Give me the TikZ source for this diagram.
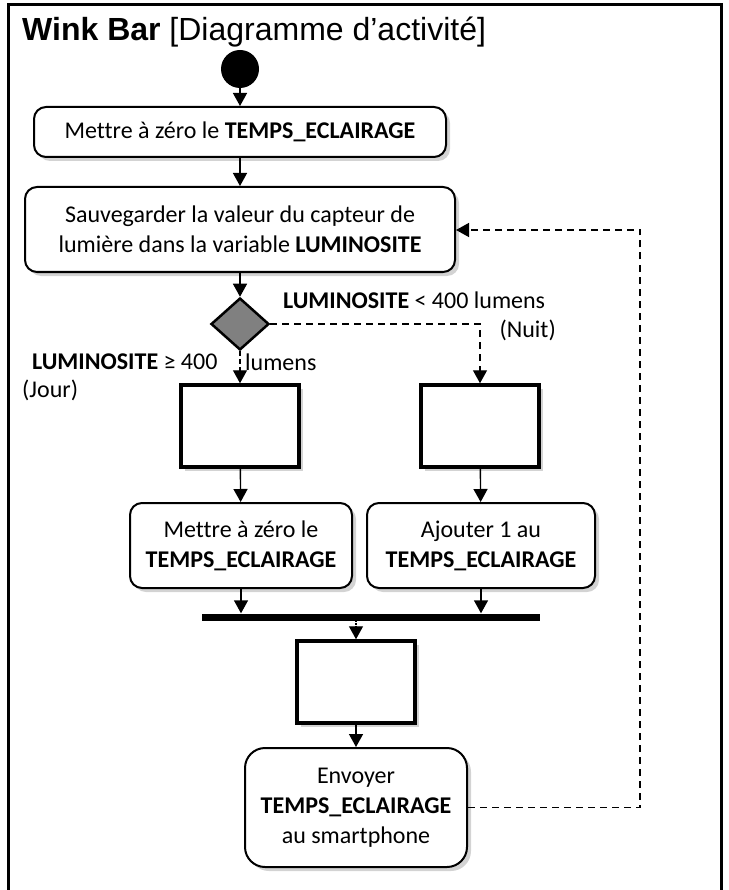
\documentclass[tikz,border=0pt]{standalone}
\usepackage{fontspec}
\setmainfont{Carlito}[Ligatures=NoCommon]
\newfontfamily\titlefont{Liberation Sans}
\usetikzlibrary{arrows.meta,shapes.geometric,shadows}

\begin{document}
\begin{tikzpicture}[x=1pt,y=-1pt,
    every node/.style={font=\fontsize{24}{30}\selectfont},
    shade/.style={drop shadow={shadow xshift=4pt,shadow yshift=-4pt,opacity=0.35}},
    action/.style={draw,line width=2pt,rounded corners=12pt,fill=white,align=center,inner sep=0pt,shade},
    blank/.style={draw,line width=3.5pt,fill=white,minimum width=118pt,minimum height=82pt,inner sep=0pt,shade},
    arr/.style={line width=1.4pt,-{Triangle[length=13pt,width=14pt]}},
    backflow/.style={arr,dash pattern=on 7pt off 5pt}]
    \useasboundingbox (0,0) rectangle (728,890);
    % cadre
    \draw[line width=3pt] (8,890) -- (8,5) -- (721,5) -- (721,890);
    \node[anchor=base west,inner sep=0pt,font=\titlefont\fontsize{32}{36}\selectfont] (titre) at (22,41) {\textbf{Wink Bar} [Diagramme d’activité]};

    % noeuds
    \node[circle,fill=black,minimum size=38pt,inner sep=0pt] (debut) at (240,69) {};
    \node[action,minimum width=412pt,minimum height=50pt] (raz) at (240,132) {Mettre à zéro le \textbf{TEMPS\_ECLAIRAGE}};
    \node[action,minimum width=430pt,minimum height=85pt] (lire) at (240,229.5) {Sauvegarder la valeur du capteur de\\lumière dans la variable \textbf{LUMINOSITE}};
    \node[diamond,draw,fill=gray,line width=2.5pt,minimum width=58pt,minimum height=52pt,inner sep=0pt] (test) at (240,324) {};

    \node[blank] (jour) at (240,426) {};
    \node[blank] (nuit) at (480,426) {};
    \node[action,minimum width=222pt,minimum height=85pt] (razjour) at (241,545.5) {Mettre à zéro le\\\textbf{TEMPS\_ECLAIRAGE}};
    \node[action,minimum width=228pt,minimum height=85pt] (ajout) at (481,545.5) {Ajouter 1 au\\\textbf{TEMPS\_ECLAIRAGE}};
    \node[fill=black,minimum width=338pt,minimum height=7pt,inner sep=0pt] (barre) at (371,617) {};
    \node[blank] (attente) at (356,682) {};
    \node[action,rounded corners=20pt,minimum width=222pt,minimum height=119pt] (envoi) at (356,807.5) {Envoyer\\\textbf{TEMPS\_ECLAIRAGE}\\au smartphone};

    % gardes
    \node[anchor=west,inner sep=0pt] (gnuit) at (283,300) {\textbf{LUMINOSITE} < 400 lumens};
    \node[anchor=east,inner sep=0pt] (gnuit2) at (556,330) {(Nuit)};
    \node[anchor=west,inner sep=0pt] (gjour) at (32,362) {\textbf{LUMINOSITE} ≥ 400};
    \node[anchor=west,inner sep=0pt] (gjour2) at (245,362) {lumens};
    \node[anchor=west,inner sep=0pt] (gjour3) at (22,390) {(Jour)};

    % fleches
    \draw[arr] (debut) -- (raz);
    \draw[arr] (raz) -- (lire);
    \draw[arr] (lire) -- (test);
    \draw[arr,dash pattern=on 5pt off 3pt] (test) -- (jour);
    \draw[backflow] (test.east) -| (nuit.north);
    \draw[arr] (jour) -- (razjour);
    \draw[arr] (nuit) -- (ajout);
    \draw[arr] (razjour) -- (razjour |- barre.north);
    \draw[arr] (ajout) -- (ajout |- barre.north);
    \draw[arr,densely dotted] (attente |- barre.south) -- (attente);
    \draw[arr] (attente) -- (envoi);
    \coordinate (coin) at (640,230);
    \draw[backflow] (envoi.east) -| (coin) -- (lire.east |- coin);
\end{tikzpicture}
\end{document}
